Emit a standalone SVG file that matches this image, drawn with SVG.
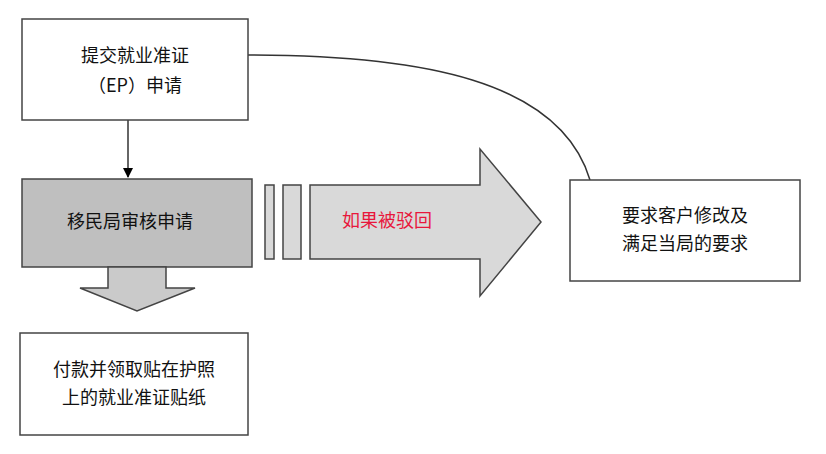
<svg xmlns="http://www.w3.org/2000/svg" width="826" height="454" viewBox="0 0 826 454">
<defs><marker id="ah" markerWidth="10" markerHeight="10" refX="9" refY="5" orient="auto" markerUnits="userSpaceOnUse"><path d="M0,0 L10,5 L0,10 Z" fill="#000"/></marker></defs>
<style>
.b{fill:#fff;stroke:#444;stroke-width:1.5}
.g{fill:#d9d9d9;stroke:#444;stroke-width:1.5}
text{font-family:"Noto Sans CJK SC","Liberation Sans",sans-serif;font-size:18px;fill:#111;text-anchor:middle}
</style>
<rect width="826" height="454" fill="#fff"/>
<g id="connectors" fill="none" stroke="#333" stroke-width="1.5">
<path d="M248,55 C420,55 560,80 590,180"/>
<line x1="128" y1="120" x2="128" y2="177" marker-end="url(#ah)"/>
</g>
<g id="n1"><rect class="b" x="22" y="19" width="226" height="101"/><text x="135" y="62">提交就业准证</text><text x="135" y="92">（EP）申请</text></g>
<g id="n2"><rect x="22" y="179" width="230" height="88" fill="#bfbfbf" stroke="#444" stroke-width="1.5"/><text x="130" y="228">移民局审核申请</text>
<path d="M108,267 L166,267 L166,288 L195,288 L137,311 L80,288 L108,288 Z" fill="#cacaca" stroke="#444" stroke-width="1.5"/></g>
<g id="arrow"><rect class="g" x="265" y="185" width="9" height="74"/><rect class="g" x="283" y="185" width="18" height="74"/>
<path class="g" d="M310,185 L480,185 L480,149 L541,222 L480,296 L480,259 L310,259 Z"/>
<text x="387" y="227" style="fill:#e8173c">如果被驳回</text></g>
<g id="n3"><rect class="b" x="570" y="180" width="230" height="101"/><text x="685" y="222">要求客户修改及</text><text x="685" y="250">满足当局的要求</text></g>
<g id="n4"><rect class="b" x="20" y="333" width="228" height="102"/><text x="134" y="376">付款并领取贴在护照</text><text x="134" y="404">上的就业准证贴纸</text></g>
</svg>
